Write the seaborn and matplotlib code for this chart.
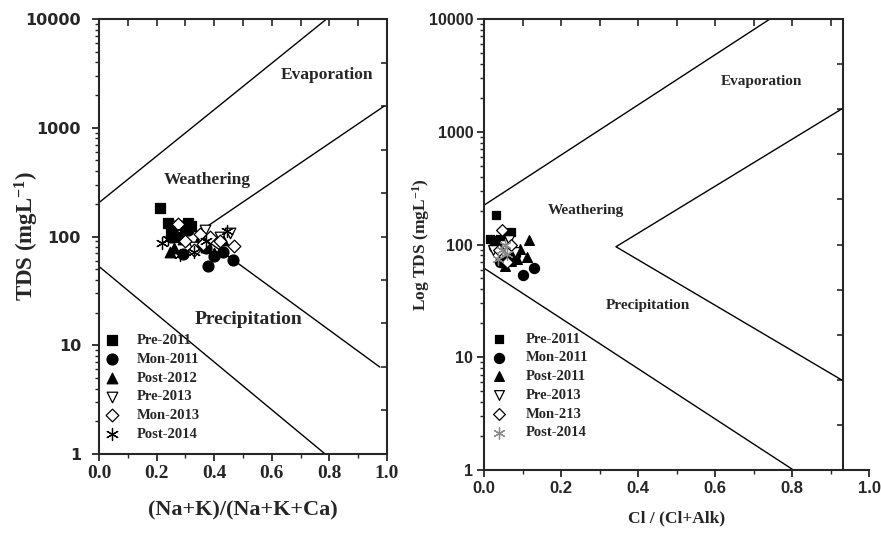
import numpy as np
import pandas as pd
import matplotlib
matplotlib.use("Agg")
import matplotlib.pyplot as plt
import matplotlib.ticker as mticker
from matplotlib.font_manager import FontProperties
import seaborn as sns

# ---------------- data ----------------
series_left = ["Pre-2011", "Mon-2011", "Post-2012", "Pre-2013", "Mon-2013", "Post-2014"]
series_right = ["Pre-2011", "Mon-2011", "Post-2011", "Pre-2013", "Mon-213", "Post-2014"]

# Left panel: (Na+K)/(Na+K+Ca) vs TDS
L_pre2011_x = [0.21, 0.24, 0.31, 0.30, 0.25, 0.27, 0.32]
L_pre2011_y = [182, 134, 133, 120, 110, 100, 125]
L_mon2011_x = [0.38, 0.465, 0.29, 0.31, 0.43, 0.40, 0.25, 0.37]
L_mon2011_y = [54, 61, 69, 115, 72, 66, 100, 78]
L_post2012_x = [0.245, 0.26, 0.37, 0.40, 0.43, 0.34, 0.29]
L_post2012_y = [72, 78, 80, 70, 92, 88, 95]
L_pre2013_x = [0.368, 0.455, 0.27, 0.33, 0.42]
L_pre2013_y = [115, 108, 125, 80, 98]
L_mon2013_x = [0.275, 0.35, 0.385, 0.47, 0.33, 0.30, 0.42, 0.36]
L_mon2013_y = [130, 105, 99, 82, 75, 90, 90, 85]
L_post2014_x = [0.218, 0.443, 0.28, 0.33, 0.24, 0.37, 0.26]
L_post2014_y = [87, 112, 68, 72, 95, 90, 110]

# Right panel: Cl/(Cl+Alk) vs TDS
R_pre2011_x = [0.03, 0.015, 0.069, 0.04, 0.028, 0.055]
R_pre2011_y = [183, 113, 130, 113, 110, 120]
R_mon2011_x = [0.101, 0.13, 0.041, 0.08, 0.06, 0.025]
R_mon2011_y = [54, 61.5, 70, 80, 75, 95]
R_post2011_x = [0.117, 0.11, 0.053, 0.093, 0.07, 0.085, 0.035]
R_post2011_y = [109, 78, 65, 92, 72, 75, 100]
R_pre2013_x = [0.023, 0.05, 0.065, 0.08]
R_pre2013_y = [89, 100, 110, 85]
R_mon213_x = [0.045, 0.037, 0.058, 0.07]
R_mon213_y = [134, 89, 70, 100]
R_post2014_x = [0.053, 0.035, 0.06, 0.045]
R_post2014_y = [100, 75, 82, 90]

# Gibbs boundary curves
L_upper_x = [0.0, 0.79];  L_upper_y = [205, 10000]
L_v_x = [0.99, 0.34, 0.975]; L_v_y = [1580, 107, 6.3]
L_lower_x = [0.0, 0.785]; L_lower_y = [53, 1]
R_upper_x = [0.0, 0.742]; R_upper_y = [224, 10000]
R_v_x = [0.928, 0.342, 0.928]; R_v_y = [1590, 95.6, 6.3]
R_lower_x = [0.0, 0.803]; R_lower_y = [61.5, 1]

y_ticks = [1, 10, 100, 1000, 10000]
x_ticks = [0.0, 0.2, 0.4, 0.6, 0.8, 1.0]

# ---------------- style ----------------
sns.set_style("ticks")
plt.rcParams["font.family"] = ["Liberation Serif", "DejaVu Serif"]
plt.rcParams["axes.linewidth"] = 1.5
plt.rcParams["mathtext.fontset"] = "custom"
plt.rcParams["mathtext.rm"] = "Liberation Serif:bold"
plt.rcParams["mathtext.bf"] = "Liberation Serif:bold"
plt.rcParams["mathtext.it"] = "Liberation Serif:bold:italic"
SERIF = "Liberation Serif"
SANS = "DejaVu Sans"

fig = plt.figure(figsize=(8.81, 5.42), dpi=100)
axL = fig.add_axes([0.1124, 0.1624, 0.3269, 0.8025])
axR = fig.add_axes([0.5497, 0.1328, 0.4370, 0.8321])

styles = [
    dict(marker="s", color="black", edgecolor="black", s=48),
    dict(marker="o", color="black", edgecolor="black", s=62),
    dict(marker="^", color="black", edgecolor="black", s=58),
    dict(marker="v", color="white", edgecolor="black", s=58),
    dict(marker="D", color="white", edgecolor="black", s=42),
    dict(marker=(6, 2, 0), color="black", s=75),
]

left_data = [(L_pre2011_x, L_pre2011_y), (L_mon2011_x, L_mon2011_y),
             (L_post2012_x, L_post2012_y), (L_pre2013_x, L_pre2013_y),
             (L_mon2013_x, L_mon2013_y), (L_post2014_x, L_post2014_y)]
right_data = [(R_pre2011_x, R_pre2011_y), (R_mon2011_x, R_mon2011_y),
              (R_post2011_x, R_post2011_y), (R_pre2013_x, R_pre2013_y),
              (R_mon213_x, R_mon213_y), (R_post2014_x, R_post2014_y)]


def draw_points(ax, data, names, star_color, scale):
    for (xs, ys), name, st in zip(data, names, styles):
        st = dict(st)
        if st["marker"] == (6, 2, 0):
            st["color"] = star_color
        st["s"] = st["s"] * scale
        df = pd.DataFrame({"x": xs, "y": ys})
        sns.scatterplot(data=df, x="x", y="y", ax=ax, label=name,
                        linewidth=0.9, zorder=3, **st)


def style_axes(ax, xr_frame, ytick_font, xtick_font):
    ax.set_yscale("log")
    ax.set_xlim(0, 1.0)
    ax.set_ylim(1, 10000)
    ax.set_xticks(x_ticks)
    ax.xaxis.set_minor_locator(mticker.MultipleLocator(0.1))
    ax.set_yticks(y_ticks)
    ax.yaxis.set_major_formatter(mticker.FuncFormatter(lambda v, p: f"{int(round(v))}"))
    ax.yaxis.set_minor_locator(mticker.LogLocator(base=10, subs=np.arange(2, 10)))
    ax.yaxis.set_minor_formatter(mticker.NullFormatter())
    ax.tick_params(axis="both", which="major", direction="out", length=5, width=1.3,
                   top=False, right=False)
    ax.tick_params(axis="both", which="minor", direction="out", length=3, width=1.0,
                   top=False, right=False)
    for t in ax.get_yticklabels():
        t.set_fontproperties(ytick_font)
    for t in ax.get_xticklabels():
        t.set_fontproperties(xtick_font)
    ax.spines["right"].set_visible(False)
    ax.spines["top"].set_bounds(0, xr_frame)
    # top ticks (inward)
    secx = ax.secondary_xaxis("top")
    secx.set_xticks(np.round(np.arange(0, xr_frame + 0.001, 0.1), 2))
    secx.tick_params(direction="in", length=5, width=1.2, labeltop=False)
    secx.xaxis.set_minor_locator(mticker.NullLocator())
    for s in secx.spines.values():
        s.set_visible(False)
    # right frame edge with evenly spaced inward ticks
    secy = ax.secondary_yaxis(xr_frame)
    secy.set_yticks(10 ** (0.4 * np.arange(11)))
    secy.yaxis.set_minor_locator(mticker.NullLocator())
    secy.tick_params(direction="in", length=4, width=1.2, labelright=False, labelleft=False)
    for s in secy.spines.values():
        s.set_linewidth(1.5)


# ---------------- left panel ----------------
for xs, ys in [(L_upper_x, L_upper_y), (L_v_x, L_v_y), (L_lower_x, L_lower_y)]:
    sns.lineplot(x=xs, y=ys, ax=axL, color="black", linewidth=1.0, sort=False,
                 estimator=None, zorder=2)
draw_points(axL, left_data, series_left, "black", 1.0)
style_axes(axL, 1.0,
           FontProperties(family=SANS, weight="bold", size=11.5),
           FontProperties(family=SERIF, weight="bold", size=14))
axL.tick_params(axis="y", which="major", pad=8)
axL.tick_params(axis="x", which="major", pad=3)
axL.set_xlabel("(Na+K)/(Na+K+Ca)", fontsize=16, fontweight="bold", family=SERIF)
axL.set_ylabel("TDS (mgL$^{-1}$)", fontsize=16.5, fontweight="bold", family=SERIF)
axL.xaxis.set_label_coords(0.5, -0.108)
axL.yaxis.set_label_coords(-0.2, 0.5)
axL.text(0.79, 3055, "Evaporation", ha="center", va="center", fontsize=12.5,
         fontweight="bold", family=SERIF)
axL.text(0.376, 331, "Weathering", ha="center", va="center", fontsize=12.5,
         fontweight="bold", family=SERIF)
axL.text(0.518, 17.1, "Precipitation", ha="center", va="center", fontsize=14,
         fontweight="bold", family=SERIF)
axL.legend(loc="lower left", bbox_to_anchor=(0.02, 0.03), frameon=False,
           prop=FontProperties(family=SERIF, weight="bold", size=10.5),
           handlelength=1.0, handletextpad=1.2, labelspacing=0.38,
           borderpad=0, borderaxespad=0)

# ---------------- right panel ----------------
for xs, ys in [(R_upper_x, R_upper_y), (R_v_x, R_v_y), (R_lower_x, R_lower_y)]:
    sns.lineplot(x=xs, y=ys, ax=axR, color="black", linewidth=1.0, sort=False,
                 estimator=None, zorder=2)
draw_points(axR, right_data, series_right, "#8a8a8a", 0.85)
style_axes(axR, 0.932,
           FontProperties(family="Liberation Sans", weight="bold", size=11.5),
           FontProperties(family="Liberation Sans", weight="bold", size=12))
axR.tick_params(axis="y", which="major", pad=3)
axR.tick_params(axis="x", which="major", pad=3)
axR.set_xlabel("Cl / (Cl+Alk)", fontsize=12.5, fontweight="bold", family=SERIF)
axR.set_ylabel("Log TDS (mgL$^{-1}$)", fontsize=12.5, fontweight="bold", family=SERIF)
axR.xaxis.set_label_coords(0.5, -0.09)
axR.yaxis.set_label_coords(-0.135, 0.5)
axR.text(0.72, 2780, "Evaporation", ha="center", va="center", fontsize=11,
         fontweight="bold", family=SERIF)
axR.text(0.263, 202, "Weathering", ha="center", va="center", fontsize=11,
         fontweight="bold", family=SERIF)
axR.text(0.426, 28.5, "Precipitation", ha="center", va="center", fontsize=11,
         fontweight="bold", family=SERIF)
axR.legend(loc="lower left", bbox_to_anchor=(0.02, 0.068), frameon=False,
           prop=FontProperties(family=SERIF, weight="bold", size=10.5),
           handlelength=1.0, handletextpad=1.3, labelspacing=0.38,
           borderpad=0, borderaxespad=0)

fig.savefig("out.png", dpi=100)
